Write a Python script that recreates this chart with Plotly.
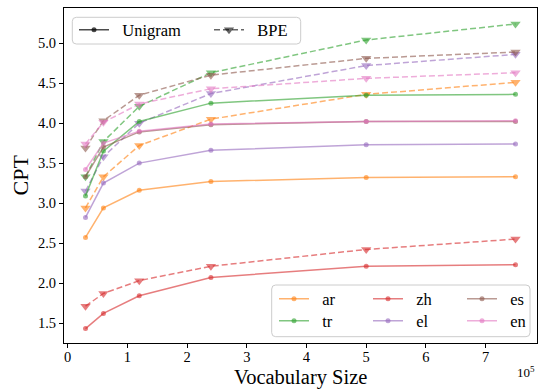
import plotly.graph_objects as go

vocab = [30000, 60000, 120000, 240000, 500000, 750000]
langs = ["ar", "tr", "zh", "el", "es", "en"]
colors = {"ar": "255,127,14", "tr": "44,160,44", "zh": "214,39,40",
          "el": "148,103,189", "es": "140,86,75", "en": "227,119,194"}

ar_uni = [2.57, 2.94, 3.16, 3.27, 3.32, 3.33]
ar_bpe = [2.94, 3.33, 3.72, 4.05, 4.36, 4.51]
tr_uni = [3.09, 3.65, 4.02, 4.25, 4.35, 4.36]
tr_bpe = [3.33, 3.77, 4.21, 4.63, 5.04, 5.24]
zh_uni = [1.43, 1.62, 1.84, 2.07, 2.21, 2.23]
zh_bpe = [1.71, 1.87, 2.03, 2.21, 2.42, 2.55]
el_uni = [2.82, 3.25, 3.50, 3.66, 3.73, 3.74]
el_bpe = [3.15, 3.58, 4.00, 4.37, 4.72, 4.86]
es_uni = [3.33, 3.70, 3.89, 3.98, 4.02, 4.02]
es_bpe = [3.69, 4.03, 4.35, 4.60, 4.81, 4.89]
en_uni = [3.42, 3.75, 3.90, 3.99, 4.02, 4.03]
en_bpe = [3.74, 4.01, 4.24, 4.43, 4.56, 4.63]

uni = {"ar": ar_uni, "tr": tr_uni, "zh": zh_uni, "el": el_uni, "es": es_uni, "en": en_uni}
bpe = {"ar": ar_bpe, "tr": tr_bpe, "zh": zh_bpe, "el": el_bpe, "es": es_bpe, "en": en_bpe}

x_tickvals = [0, 100000, 200000, 300000, 400000, 500000, 600000, 700000]
x_ticktext = ["0", "1", "2", "3", "4", "5", "6", "7"]
y_tickvals = [1.5, 2.0, 2.5, 3.0, 3.5, 4.0, 4.5, 5.0]

FONT = "Liberation Serif, serif"
W, H = 539, 389
L, R, T, B = 64, 2, 8, 46
PW, PH = W - L - R, H - T - B
SP = "\u00a0\u00a0"

def px(x):
    return (x - L) / PW

def py(y):
    return (H - B - y) / PH

fig = go.Figure()
alpha = 0.6
for lg in langs:
    c = colors[lg]
    fig.add_trace(go.Scatter(
        x=vocab, y=bpe[lg], mode="lines+markers", showlegend=False,
        line=dict(color=f"rgba({c},{alpha})", width=1.5, dash="6px,3px"),
        marker=dict(symbol="triangle-down", size=9, color=f"rgba({c},{alpha})", line=dict(width=0))))
row1 = ["ar", "zh", "es"]
for lg in langs:
    c = colors[lg]
    fig.add_trace(go.Scatter(
        x=vocab, y=uni[lg], mode="lines+markers", name=SP + lg,
        legend="legend2" if lg in row1 else "legend3",
        line=dict(color=f"rgba({c},{alpha})", width=1.5),
        marker=dict(symbol="circle", size=5, color=f"rgba({c},{alpha})", line=dict(width=0))))

# style legend entries
fig.add_trace(go.Scatter(x=[None], y=[None], mode="lines+markers", name=SP + "Unigram", legend="legend",
                         line=dict(color="rgba(0,0,0,0.7)", width=1.5),
                         marker=dict(symbol="circle", size=5, color="rgba(0,0,0,0.7)")))
fig.add_trace(go.Scatter(x=[None], y=[None], mode="lines+markers", name=SP + "BPE", legend="legend",
                         line=dict(color="rgba(0,0,0,0.6)", width=1.5, dash="6px,3px"),
                         marker=dict(symbol="triangle-down", size=9, color="rgba(0,0,0,0.6)")))

def rrect(x0, y0, x1, y1, r=4):
    X0, X1 = px(x0), px(x1)
    Y0, Y1 = py(y1), py(y0)
    rx, ry = r / PW, r / PH
    return (f"M{X0+rx},{Y1} L{X1-rx},{Y1} Q{X1},{Y1} {X1},{Y1-ry} "
            f"L{X1},{Y0+ry} Q{X1},{Y0} {X1-rx},{Y0} L{X0+rx},{Y0} "
            f"Q{X0},{Y0} {X0},{Y0+ry} L{X0},{Y1-ry} Q{X0},{Y1} {X0+rx},{Y1} Z")

shapes = [
    dict(type="path", xref="paper", yref="paper", path=rrect(72.3, 17.3, 300.7, 44),
         line=dict(color="#cccccc", width=1), fillcolor="rgba(255,255,255,0.8)", layer="above"),
    dict(type="path", xref="paper", yref="paper", path=rrect(271.7, 285, 530, 336.7),
         line=dict(color="#cccccc", width=1), fillcolor="rgba(255,255,255,0.8)", layer="above"),
]

legfont = dict(family=FONT, size=16.5, color="black")
common = dict(orientation="h", xanchor="left", yanchor="middle", bgcolor="rgba(0,0,0,0)",
              borderwidth=0, font=legfont, itemclick=False, traceorder="normal")

fig.update_layout(
    width=W, height=H, autosize=False,
    margin=dict(l=L, r=R, t=T, b=B, autoexpand=False),
    paper_bgcolor="white", plot_bgcolor="white",
    font=dict(family=FONT, color="black"),
    shapes=shapes,
    legend=dict(x=px(74), y=py(30), entrywidth=90, **common),
    legend2=dict(x=px(274), y=py(299), entrywidth=49, **common),
    legend3=dict(x=px(274), y=py(321), entrywidth=49, **common),
    xaxis=dict(range=[-6000, 786000], tickvals=x_tickvals, ticktext=x_ticktext,
               showgrid=False, zeroline=False, showline=True, linecolor="black", linewidth=1,
               mirror=True, ticks="outside", ticklen=4, tickwidth=1, tickcolor="black",
               ticklabelstandoff=-3, tickfont=dict(family=FONT, size=14.5)),
    yaxis=dict(range=[1.25, 5.44], tickvals=y_tickvals, tickformat=".1f",
               showgrid=False, zeroline=False, showline=True, linecolor="black", linewidth=1,
               mirror=True, ticks="outside", ticklen=4, tickwidth=1, tickcolor="black",
               tickfont=dict(family=FONT, size=14.5)),
    annotations=[
        dict(text="CPT", xref="paper", yref="paper", x=px(20), y=0.5, textangle=-90,
             showarrow=False, font=dict(family=FONT, size=22), xanchor="center", yanchor="middle"),
        dict(text="Vocabulary Size", xref="paper", yref="paper", x=0.5, y=py(377),
             showarrow=False, font=dict(family=FONT, size=20.5), xanchor="center", yanchor="middle"),
        dict(text="10<sup>5</sup>", xref="paper", yref="paper", x=px(537), y=py(372),
             showarrow=False, font=dict(family=FONT, size=13), xanchor="right", yanchor="middle"),
    ],
)

post = ("document.body.style.margin='0';document.body.style.overflow='hidden';"
        "var gd=document.getElementById('{plot_id}');gd.style.width='539px';gd.style.height='389px';"
        "Plotly.relayout(gd,{width:539,height:389});")
fig.write_html("out.html", config={"responsive": False, "displayModeBar": False}, post_script=post)
